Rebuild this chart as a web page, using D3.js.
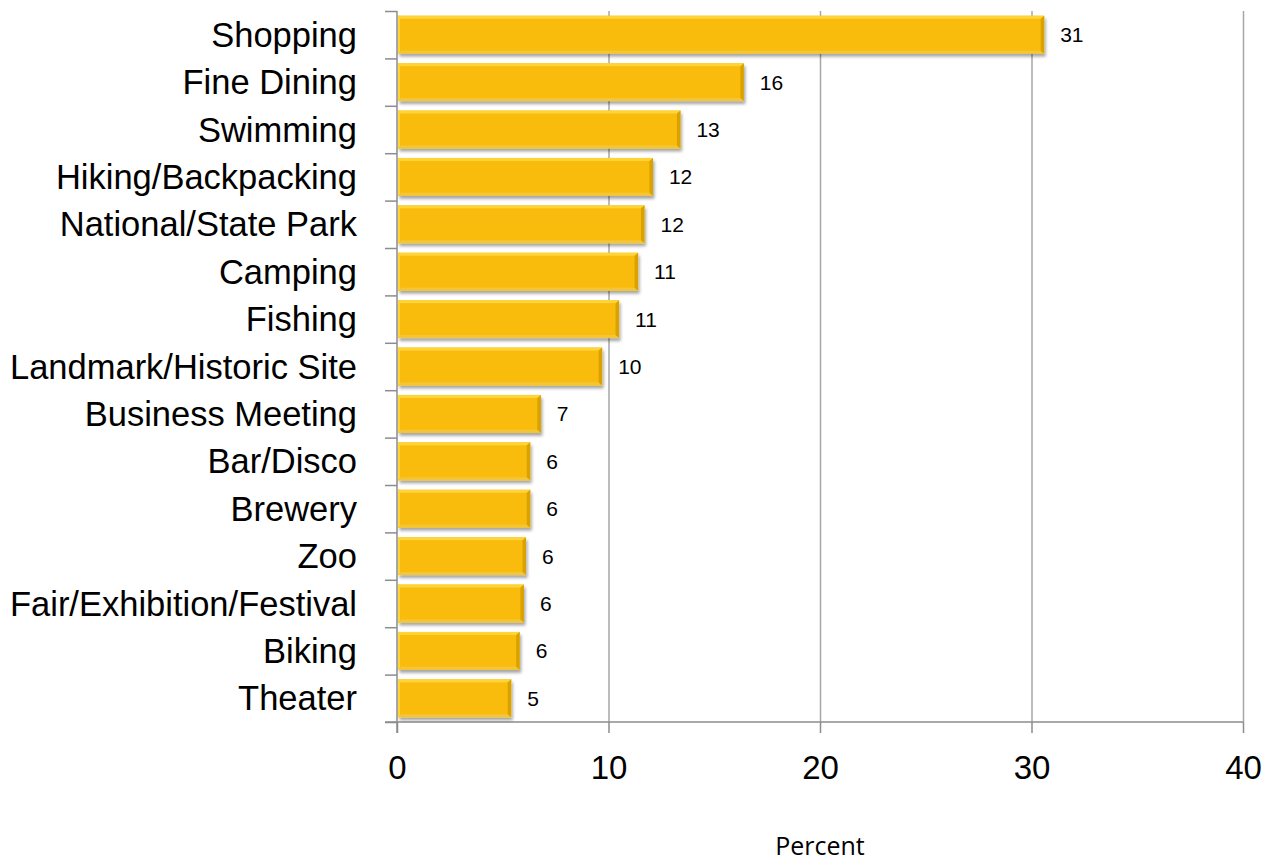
<!DOCTYPE html>
<html>
<head>
<meta charset="utf-8">
<script src="https://cdn.jsdelivr.net/npm/d3@7"></script>
<style>
  body { margin: 0; background: #fff; }
  svg { display: block; }
</style>
</head>
<body>
<div id="chart-area"></div>
<script>
const categories = ["Shopping", "Fine Dining", "Swimming", "Hiking/Backpacking", "National/State Park",
  "Camping", "Fishing", "Landmark/Historic Site", "Business Meeting", "Bar/Disco", "Brewery", "Zoo",
  "Fair/Exhibition/Festival", "Biking", "Theater"];
const values = [30.6, 16.4, 13.4, 12.1, 11.7, 11.4, 10.5, 9.7, 6.8, 6.3, 6.3, 6.1, 6.0, 5.8, 5.4];
const labels = ["31", "16", "13", "12", "12", "11", "11", "10", "7", "6", "6", "6", "6", "6", "5"];
const xTicks = [0, 10, 20, 30, 40];

const width = 1268;
const height = 865;
const plotLeft = 397, plotRight = 1243, plotTop = 11, plotBottom = 722;

const svg = d3.select("#chart-area")
  .append("svg")
    .attr("width", width)
    .attr("height", height);

const x = d3.scaleLinear().domain([0, 40]).range([plotLeft, plotRight]);
const y = d3.scaleBand().domain(categories).range([plotTop, plotBottom])
  .paddingInner(0.2).paddingOuter(0.1);

const defs = svg.append("defs");
const shadow = defs.append("filter").attr("id", "shadow")
  .attr("x", "-5%").attr("y", "-20%").attr("width", "115%").attr("height", "160%");
shadow.append("feDropShadow")
  .attr("dx", 1.5).attr("dy", 3).attr("stdDeviation", 1.6)
  .attr("flood-color", "#000").attr("flood-opacity", 0.35);

// vertical gridlines
svg.append("g")
  .attr("transform", `translate(0,${plotBottom})`)
  .call(d3.axisBottom(x).tickValues(xTicks.slice(1)).tickSize(-(plotBottom - plotTop)).tickFormat(""))
  .call(g => g.select(".domain").remove())
  .call(g => g.selectAll("line").attr("stroke", "#a6a6a6").attr("stroke-width", 1.5));

// x axis
const xAxis = svg.append("g")
  .attr("transform", `translate(0,${plotBottom})`)
  .call(d3.axisBottom(x).tickValues(xTicks).tickSize(11).tickPadding(23));
xAxis.select(".domain").remove();
xAxis.append("line")
  .attr("x1", plotLeft - 12).attr("x2", plotRight)
  .attr("y1", 0).attr("y2", 0)
  .attr("stroke", "#8c8c8c").attr("stroke-width", 1.5);
xAxis.selectAll(".tick line").attr("stroke", "#8c8c8c").attr("stroke-width", 1.5);
xAxis.selectAll("text")
  .attr("fill", "#000")
  .style("font-family", "'Liberation Sans', Arial, sans-serif")
  .style("font-size", "33px");

// y axis: ticks at band boundaries
const yBound = d3.scaleLinear().domain([0, categories.length]).range([plotTop, plotBottom]);
const yAxis = svg.append("g")
  .attr("transform", `translate(${plotLeft},0)`)
  .call(d3.axisLeft(yBound).tickValues(d3.range(categories.length + 1)).tickSize(12).tickFormat(""));
yAxis.select(".domain").attr("d", `M0,${plotTop}V${plotBottom + 11}`);
yAxis.selectAll("path, line").attr("stroke", "#8c8c8c").attr("stroke-width", 1.5);

// category labels
svg.append("g")
  .selectAll("text")
  .data(categories)
  .enter()
  .append("text")
    .attr("x", plotLeft - 40)
    .attr("y", d => y(d) + y.bandwidth() / 2)
    .attr("dy", "0.35em")
    .attr("text-anchor", "end")
    .style("font-family", "'Liberation Sans', Arial, sans-serif")
    .style("font-size", "34.5px")
    .text(d => d);

// bars with bevel
const bars = svg.append("g")
  .selectAll("g")
  .data(categories)
  .enter()
  .append("g")
    .attr("transform", d => `translate(${x(0) + 1},${y(d)})`);

const bw = (d, i) => x(values[i]) - x(0) - 1;
const bh = y.bandwidth();

bars.append("rect")
  .attr("width", bw)
  .attr("height", bh)
  .attr("fill", "#f9bc0a")
  .attr("filter", "url(#shadow)");
// top highlight
bars.append("rect")
  .attr("width", bw)
  .attr("height", 3)
  .attr("fill", "#ffd43a");
// left highlight
bars.append("rect")
  .attr("width", 2)
  .attr("height", bh)
  .attr("fill", "#ffd43a");
// bottom edge
bars.append("path")
  .attr("d", (d, i) => { const w = bw(d, i); return `M0,${bh}L3,${bh - 3}L${w - 3},${bh - 3}L${w},${bh}Z`; })
  .attr("fill", "#f2c53a");
// right bevel
bars.append("path")
  .attr("d", (d, i) => { const w = bw(d, i); return `M${w},0L${w - 3.5},3L${w - 3.5},${bh - 3}L${w},${bh}Z`; })
  .attr("fill", "#d9a200");

// value labels
svg.append("g")
  .selectAll("text")
  .data(categories)
  .enter()
  .append("text")
    .attr("x", (d, i) => x(values[i]) + 16)
    .attr("y", d => y(d) + y.bandwidth() / 2)
    .attr("dy", "0.36em")
    .style("font-family", "'Liberation Sans', Arial, sans-serif")
    .style("font-size", "21px")
    .text((d, i) => labels[i]);

// axis title
svg.append("text")
  .attr("x", 820)
  .attr("y", 855)
  .attr("text-anchor", "middle")
  .style("font-family", "'Open Sans', 'Liberation Sans', sans-serif")
  .style("font-size", "25px")
  .text("Percent");
</script>
</body>
</html>
